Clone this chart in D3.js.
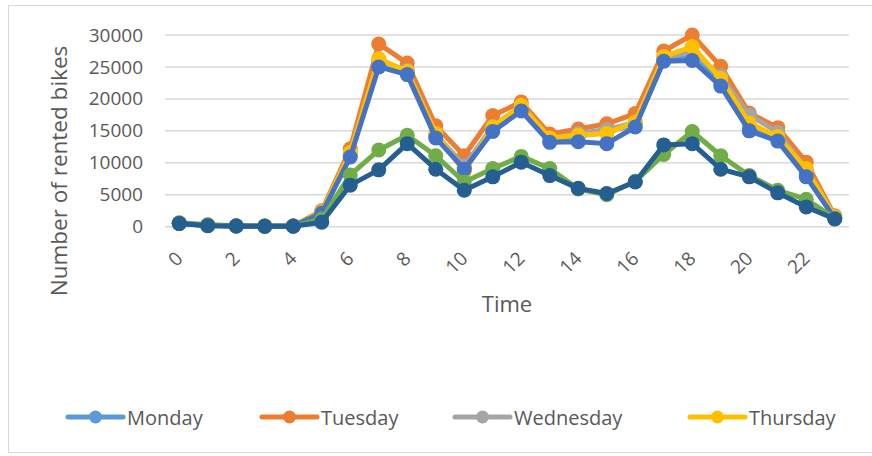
<!DOCTYPE html>
<html>
<head>
<meta charset="utf-8">
<script src="https://cdn.jsdelivr.net/npm/d3@7"></script>
<style>
  html, body { margin: 0; padding: 0; background: #fff; }
  svg { display: block; font-family: "Open Sans", "Liberation Sans", sans-serif; }
</style>
</head>
<body>
<svg id="chart" width="872" height="456"></svg>
<script>
// Hourly bike rentals per weekday
const hours = d3.range(24);
const hourTicks = [0, 2, 4, 6, 8, 10, 12, 14, 16, 18, 20, 22];
const yTicks = [0, 5000, 10000, 15000, 20000, 25000, 30000];

const monday    = [500, 200, 100, 80, 100, 2000, 11200, 25500, 24200, 14200, 9300, 15300, 18400, 13500, 14200, 14800, 16000, 26200, 26600, 22600, 15800, 13900, 8300, 1400];
const tuesday   = [550, 250, 120, 90, 120, 2500, 12200, 28600, 25600, 15800, 11100, 17400, 19500, 14500, 15300, 16100, 17700, 27500, 30000, 25100, 17800, 15500, 10100, 1700];
const wednesday = [500, 220, 110, 80, 110, 2200, 11500, 25800, 24500, 14500, 9500, 15700, 18900, 13800, 14600, 15200, 16300, 26600, 27300, 23600, 17500, 14800, 9000, 1500];
const thursday  = [520, 230, 110, 90, 110, 2300, 11600, 26300, 24300, 14600, 8600, 15600, 19000, 13900, 14300, 14600, 16400, 26600, 28200, 23200, 16200, 14100, 9100, 1500];
const friday    = [500, 200, 100, 80, 100, 2100, 10900, 25000, 23800, 13900, 9000, 14900, 18100, 13200, 13300, 13000, 15600, 25900, 26000, 22000, 15000, 13400, 7800, 1300];
const saturday  = [600, 300, 150, 100, 100, 1200, 8100, 12000, 14300, 11100, 7000, 9100, 11000, 9100, 5900, 5000, 7100, 11300, 14900, 11100, 8000, 5700, 4300, 1300];
const sunday    = [500, 150, 100, 80, 80, 700, 6500, 8900, 13000, 9000, 5700, 7800, 10100, 8000, 6000, 5200, 7000, 12800, 13000, 9000, 7800, 5300, 3100, 1200];

const seriesNames  = ["Monday", "Tuesday", "Wednesday", "Thursday", "Friday", "Saturday", "Sunday"];
const seriesValues = [monday, tuesday, wednesday, thursday, friday, saturday, sunday];
const seriesColors = ["#5B9BD5", "#ED7D31", "#A5A5A5", "#FFC000", "#4472C4", "#70AD47", "#255E91"];
const legendNames  = ["Monday", "Tuesday", "Wednesday", "Thursday"];

const svg = d3.select("#chart");

// chart frame
svg.append("rect")
  .attr("x", 8.5).attr("y", 5.5)
  .attr("width", 870).attr("height", 447)
  .attr("fill", "#fff").attr("stroke", "#d9d9d9").attr("stroke-width", 1);

const x = d3.scaleBand().domain(hours).range([165, 849]);
const xc = h => x(h) + x.bandwidth() / 2;
const y = d3.scaleLinear().domain([0, 30000]).range([226.7, 35]);

// horizontal gridlines
svg.append("g")
  .selectAll("line")
  .data(yTicks)
  .join("line")
  .attr("x1", 165).attr("x2", 849)
  .attr("y1", d => y(d)).attr("y2", d => y(d))
  .attr("stroke", "#d9d9d9").attr("stroke-width", 1.5);

// y axis labels
const yAxis = d3.axisLeft(y).tickValues(yTicks).tickSize(0).tickPadding(0).tickFormat(d3.format("d"));
const gy = svg.append("g").attr("transform", "translate(143,0)").call(yAxis);
gy.select(".domain").remove();
gy.selectAll("text")
  .attr("fill", "#595959")
  .style("font-size", "19px")
  .style("font-family", "'Open Sans', sans-serif");

// x axis labels, rotated
const xAxis = d3.axisBottom(d3.scalePoint().domain(hours).range([xc(0), xc(23)]))
  .tickValues(hourTicks).tickSize(0).tickPadding(0);
const gx = svg.append("g").attr("transform", "translate(0,238)").call(xAxis);
gx.select(".domain").remove();
gx.selectAll("text")
  .attr("fill", "#595959")
  .style("font-size", "19px")
  .style("font-family", "'Open Sans', sans-serif")
  .attr("text-anchor", "end")
  .attr("y", 0).attr("dy", "0.35em")
  .attr("transform", "translate(-0.5,17) rotate(-45)");

// axis titles
svg.append("text")
  .attr("transform", "translate(58,171) rotate(-90)")
  .attr("text-anchor", "middle").attr("dominant-baseline", "central")
  .attr("fill", "#595959").style("font-size", "22.5px")
  .text("Number of rented bikes");

svg.append("text")
  .attr("x", 507).attr("y", 303)
  .attr("text-anchor", "middle").attr("dominant-baseline", "central")
  .attr("fill", "#595959").style("font-size", "22px")
  .text("Time");

// series lines with markers
const line = d3.line().x((d, i) => xc(i)).y(d => y(d));
seriesValues.forEach((vals, k) => {
  const g = svg.append("g").attr("class", "series");
  g.append("path")
    .datum(vals)
    .attr("d", line)
    .attr("fill", "none")
    .attr("stroke", seriesColors[k])
    .attr("stroke-width", 5)
    .attr("stroke-linejoin", "round");
  g.selectAll("circle")
    .data(vals)
    .join("circle")
    .attr("cx", (d, i) => xc(i))
    .attr("cy", d => y(d))
    .attr("r", 7.5)
    .attr("fill", seriesColors[k]);
});

// legend
const legendX = [68, 262, 455, 690];
const legend = svg.append("g");
legendNames.forEach((name, k) => {
  const g = legend.append("g").attr("transform", `translate(${legendX[k]},417)`);
  g.append("line")
    .attr("x1", 0).attr("x2", 55).attr("y1", 0).attr("y2", 0)
    .attr("stroke", seriesColors[k]).attr("stroke-width", 5).attr("stroke-linecap", "round");
  g.append("circle").attr("cx", 27.5).attr("cy", 0).attr("r", 6.5).attr("fill", seriesColors[k]);
  g.append("text")
    .attr("x", 59).attr("y", 0)
    .attr("dominant-baseline", "central")
    .attr("fill", "#595959").style("font-size", "20px")
    .text(name);
});
</script>
</body>
</html>
